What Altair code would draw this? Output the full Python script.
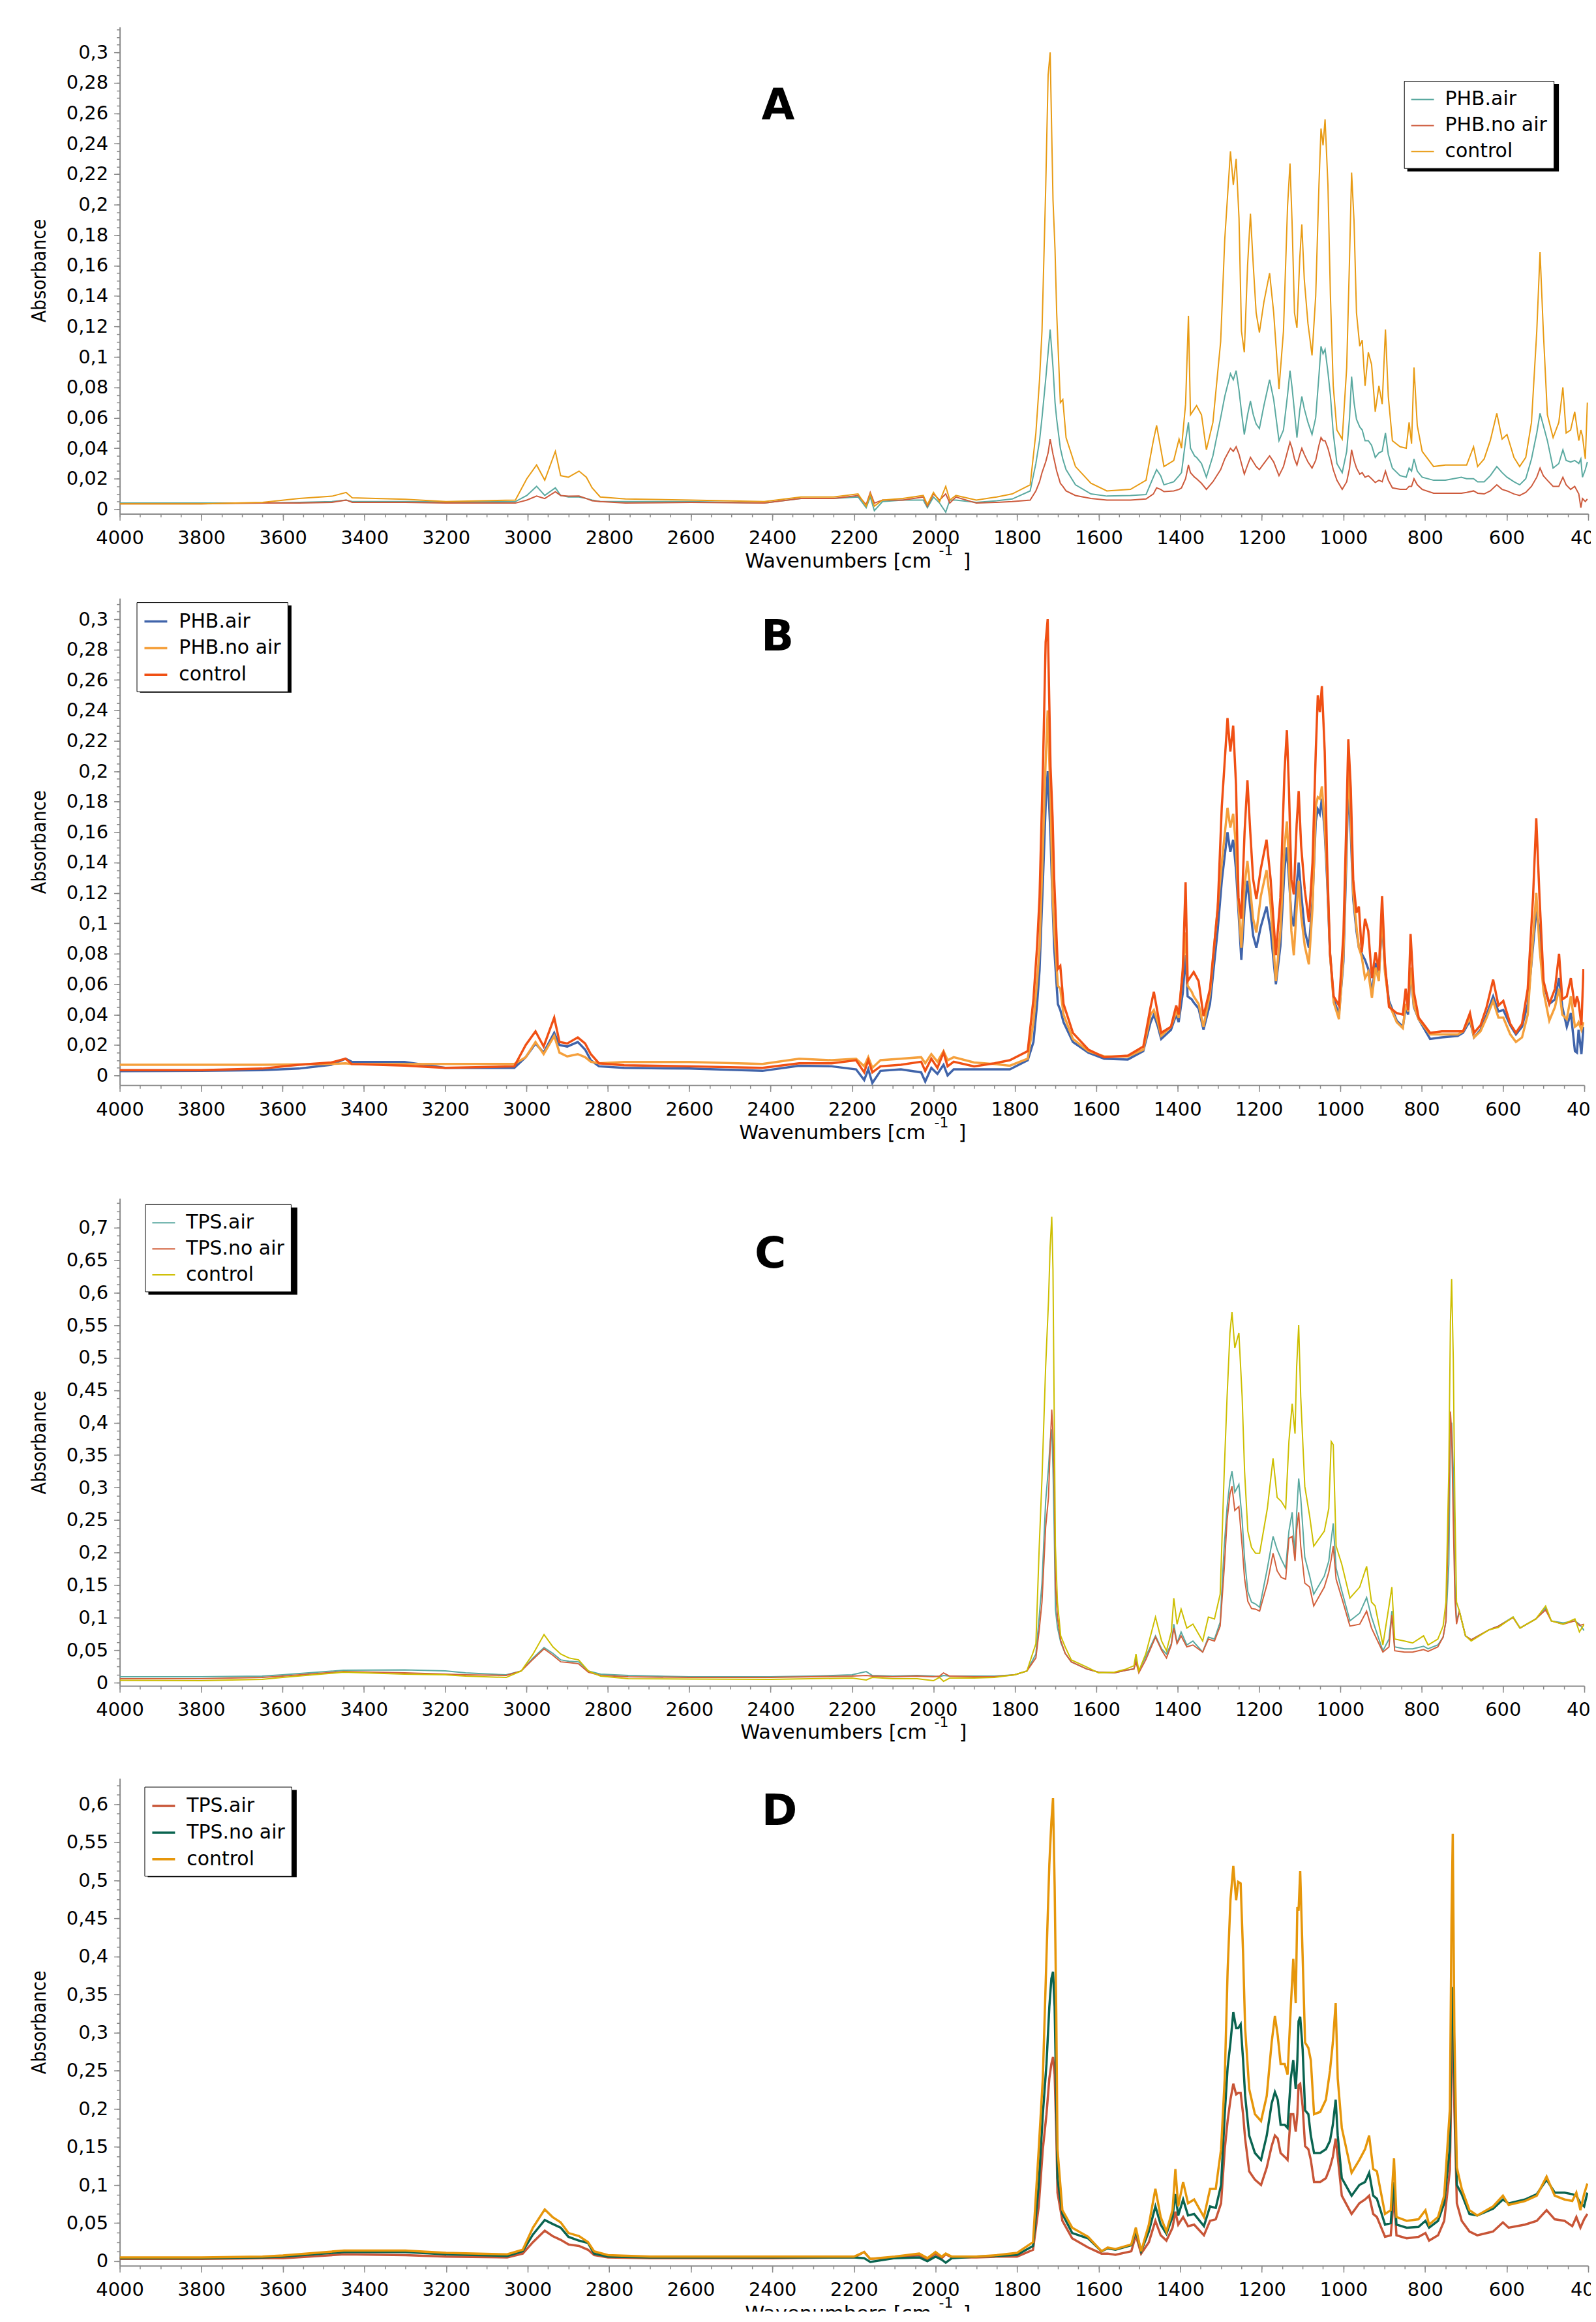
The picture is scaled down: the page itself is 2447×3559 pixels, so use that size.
import altair as alt
import pandas as pd

FONT = "DejaVu Sans"
TITLE_FONT = "DejaVu Sans Condensed, Liberation Sans Narrow, DejaVu Sans"
AXIS_GRAY = "#8a8a8a"

# ---------------- tick values ----------------
X_MAJOR = [4000, 3800, 3600, 3400, 3200, 3000, 2800, 2600, 2400, 2200, 2000,
           1800, 1600, 1400, 1200, 1000, 800, 600, 400]
X_MINOR = list(range(4000, 399, -50))
Y_MAJOR_PHB = [0, 0.02, 0.04, 0.06, 0.08, 0.1, 0.12, 0.14, 0.16, 0.18, 0.2,
               0.22, 0.24, 0.26, 0.28, 0.3]
Y_MAJOR_C = [0, 0.05, 0.1, 0.15, 0.2, 0.25, 0.3, 0.35, 0.4, 0.45, 0.5, 0.55,
             0.6, 0.65, 0.7]
Y_MAJOR_D = [0, 0.05, 0.1, 0.15, 0.2, 0.25, 0.3, 0.35, 0.4, 0.45, 0.5, 0.55, 0.6]

# ---------------- series names ----------------
PHB_NAMES = ["PHB.air", "PHB.no air", "control"]
TPS_NAMES = ["TPS.air", "TPS.no air", "control"]

# ---------------- PHB spectra (panels A and B) ----------------
# (wavenumber, control, A PHB.air, A PHB.no air, B PHB.air, B PHB.no air)
PHB_ROWS = [
    (4000, 0.0035, 0.004, 0.0035, 0.0028, 0.007),
    (3800, 0.0035, 0.004, 0.0035, 0.003, 0.007),
    (3650, 0.0045, 0.004, 0.004, 0.0035, 0.007),
    (3560, 0.007, 0.0045, 0.004, 0.0045, 0.0072),
    (3480, 0.0085, 0.005, 0.0045, 0.007, 0.0075),
    (3445, 0.011, 0.006, 0.006, 0.011, 0.008),
    (3430, 0.0075, 0.005, 0.0045, 0.009, 0.0075),
    (3300, 0.0065, 0.005, 0.0045, 0.0088, 0.0075),
    (3200, 0.005, 0.0048, 0.004, 0.005, 0.0076),
    (3030, 0.006, 0.005, 0.004, 0.005, 0.0076),
    (3002, 0.020, 0.009, 0.006, 0.012, 0.012),
    (2978, 0.029, 0.015, 0.0086, 0.021, 0.022),
    (2958, 0.019, 0.009, 0.007, 0.015, 0.014),
    (2932, 0.038, 0.014, 0.0115, 0.028, 0.026),
    (2919, 0.022, 0.009, 0.009, 0.020, 0.015),
    (2900, 0.021, 0.008, 0.0085, 0.019, 0.0125),
    (2874, 0.025, 0.008, 0.0086, 0.022, 0.014),
    (2856, 0.021, 0.007, 0.007, 0.017, 0.012),
    (2842, 0.014, 0.006, 0.0055, 0.010, 0.009),
    (2822, 0.008, 0.005, 0.005, 0.006, 0.008),
    (2760, 0.0067, 0.005, 0.004, 0.005, 0.0088),
    (2600, 0.006, 0.005, 0.0045, 0.0045, 0.0088),
    (2420, 0.005, 0.004, 0.004, 0.003, 0.0076),
    (2330, 0.008, 0.007, 0.007, 0.0064, 0.011),
    (2250, 0.008, 0.007, 0.007, 0.006, 0.010),
    (2190, 0.010, 0.008, 0.009, 0.004, 0.011),
    (2170, 0.002, 0.001, 0.003, -0.003, 0.006),
    (2160, 0.010, 0.008, 0.011, 0.004, 0.012),
    (2150, 0.002, -0.001, 0.004, -0.005, 0.005),
    (2130, 0.006, 0.005, 0.006, 0.003, 0.010),
    (2080, 0.007, 0.006, 0.006, 0.004, 0.011),
    (2030, 0.009, 0.006, 0.008, 0.002, 0.012),
    (2020, 0.003, 0.001, 0.002, -0.004, 0.008),
    (2005, 0.011, 0.008, 0.010, 0.005, 0.014),
    (1990, 0.005, 0.004, 0.006, 0.001, 0.009),
    (1975, 0.015, -0.002, 0.010, 0.007, 0.016),
    (1965, 0.006, 0.006, 0.004, 0.0, 0.010),
    (1950, 0.009, 0.006, 0.008, 0.004, 0.012),
    (1900, 0.006, 0.0045, 0.004, 0.004, 0.0085),
    (1850, 0.008, 0.0055, 0.0045, 0.004, 0.0075),
    (1812, 0.010, 0.0067, 0.005, 0.004, 0.0064),
    (1768, 0.016, 0.012, 0.006, 0.010, 0.011),
    (1754, 0.050, 0.030, 0.012, 0.022, 0.035),
    (1745, 0.085, 0.045, 0.018, 0.047, 0.062),
    (1739, 0.117, 0.060, 0.024, 0.069, 0.084),
    (1730, 0.210, 0.085, 0.031, 0.133, 0.157),
    (1724, 0.285, 0.103, 0.037, 0.177, 0.207),
    (1719, 0.300, 0.118, 0.046, 0.200, 0.240),
    (1712, 0.203, 0.093, 0.036, 0.157, 0.182),
    (1707, 0.170, 0.070, 0.030, 0.113, 0.120),
    (1703, 0.129, 0.059, 0.025, 0.084, 0.096),
    (1694, 0.070, 0.040, 0.017, 0.047, 0.059),
    (1688, 0.072, 0.033, 0.015, 0.043, 0.057),
    (1680, 0.047, 0.026, 0.012, 0.035, 0.040),
    (1657, 0.028, 0.016, 0.009, 0.022, 0.024),
    (1619, 0.017, 0.010, 0.007, 0.015, 0.016),
    (1580, 0.012, 0.0086, 0.006, 0.011, 0.0125),
    (1522, 0.013, 0.009, 0.006, 0.0105, 0.0125),
    (1484, 0.019, 0.0096, 0.0067, 0.016, 0.017),
    (1466, 0.045, 0.021, 0.010, 0.035, 0.040),
    (1458, 0.055, 0.026, 0.014, 0.040, 0.043),
    (1448, 0.040, 0.022, 0.013, 0.032, 0.035),
    (1440, 0.028, 0.016, 0.0115, 0.024, 0.026),
    (1416, 0.032, 0.018, 0.012, 0.030, 0.032),
    (1403, 0.046, 0.022, 0.013, 0.040, 0.042),
    (1397, 0.040, 0.024, 0.014, 0.035, 0.038),
    (1387, 0.069, 0.045, 0.020, 0.054, 0.069),
    (1380, 0.127, 0.057, 0.029, 0.079, 0.094),
    (1375, 0.062, 0.040, 0.024, 0.052, 0.059),
    (1365, 0.066, 0.035, 0.021, 0.050, 0.055),
    (1360, 0.068, 0.034, 0.020, 0.048, 0.052),
    (1348, 0.062, 0.030, 0.017, 0.044, 0.047),
    (1336, 0.039, 0.021, 0.013, 0.030, 0.032),
    (1320, 0.057, 0.035, 0.018, 0.047, 0.054),
    (1301, 0.110, 0.060, 0.026, 0.096, 0.111),
    (1291, 0.177, 0.074, 0.033, 0.128, 0.140),
    (1277, 0.235, 0.089, 0.040, 0.160, 0.176),
    (1270, 0.213, 0.085, 0.038, 0.147, 0.163),
    (1263, 0.230, 0.091, 0.041, 0.155, 0.172),
    (1256, 0.191, 0.078, 0.036, 0.135, 0.150),
    (1250, 0.117, 0.064, 0.030, 0.108, 0.113),
    (1243, 0.103, 0.049, 0.023, 0.076, 0.084),
    (1235, 0.160, 0.062, 0.029, 0.110, 0.125),
    (1228, 0.194, 0.071, 0.034, 0.128, 0.141),
    (1221, 0.160, 0.062, 0.031, 0.110, 0.122),
    (1214, 0.129, 0.056, 0.028, 0.092, 0.103),
    (1206, 0.116, 0.053, 0.026, 0.084, 0.094),
    (1195, 0.136, 0.068, 0.030, 0.098, 0.118),
    (1181, 0.155, 0.085, 0.035, 0.111, 0.135),
    (1171, 0.129, 0.072, 0.031, 0.095, 0.112),
    (1158, 0.079, 0.045, 0.022, 0.060, 0.062),
    (1147, 0.117, 0.052, 0.028, 0.085, 0.095),
    (1137, 0.199, 0.075, 0.038, 0.135, 0.150),
    (1131, 0.227, 0.091, 0.044, 0.150, 0.167),
    (1126, 0.189, 0.080, 0.040, 0.130, 0.140),
    (1120, 0.129, 0.064, 0.033, 0.105, 0.095),
    (1114, 0.119, 0.047, 0.029, 0.098, 0.079),
    (1107, 0.165, 0.065, 0.036, 0.125, 0.110),
    (1102, 0.187, 0.074, 0.040, 0.140, 0.128),
    (1096, 0.151, 0.066, 0.036, 0.120, 0.105),
    (1087, 0.122, 0.057, 0.031, 0.095, 0.085),
    (1077, 0.101, 0.049, 0.027, 0.084, 0.073),
    (1068, 0.140, 0.060, 0.032, 0.115, 0.110),
    (1060, 0.213, 0.088, 0.042, 0.167, 0.177),
    (1055, 0.250, 0.107, 0.047, 0.175, 0.183),
    (1050, 0.239, 0.102, 0.045, 0.172, 0.182),
    (1045, 0.256, 0.105, 0.045, 0.182, 0.190),
    (1038, 0.213, 0.090, 0.040, 0.160, 0.165),
    (1032, 0.141, 0.075, 0.034, 0.128, 0.133),
    (1025, 0.081, 0.050, 0.026, 0.080, 0.080),
    (1016, 0.052, 0.030, 0.019, 0.050, 0.048),
    (1003, 0.046, 0.024, 0.013, 0.040, 0.037),
    (992, 0.093, 0.038, 0.018, 0.075, 0.080),
    (985, 0.165, 0.060, 0.027, 0.140, 0.150),
    (980, 0.221, 0.087, 0.039, 0.192, 0.202),
    (974, 0.189, 0.070, 0.032, 0.160, 0.170),
    (968, 0.129, 0.059, 0.027, 0.116, 0.120),
    (960, 0.107, 0.054, 0.023, 0.095, 0.098),
    (954, 0.111, 0.052, 0.024, 0.084, 0.084),
    (947, 0.081, 0.045, 0.021, 0.080, 0.078),
    (939, 0.103, 0.045, 0.022, 0.076, 0.064),
    (931, 0.095, 0.042, 0.020, 0.070, 0.068),
    (922, 0.064, 0.034, 0.0175, 0.054, 0.051),
    (913, 0.081, 0.037, 0.019, 0.074, 0.071),
    (905, 0.069, 0.038, 0.018, 0.065, 0.062),
    (897, 0.118, 0.050, 0.025, 0.101, 0.108),
    (890, 0.074, 0.036, 0.019, 0.070, 0.068),
    (880, 0.045, 0.027, 0.014, 0.049, 0.047),
    (861, 0.041, 0.022, 0.013, 0.036, 0.035),
    (846, 0.040, 0.021, 0.013, 0.032, 0.031),
    (839, 0.057, 0.027, 0.015, 0.044, 0.047),
    (833, 0.043, 0.025, 0.015, 0.040, 0.042),
    (827, 0.093, 0.033, 0.020, 0.069, 0.071),
    (819, 0.055, 0.025, 0.016, 0.045, 0.046),
    (807, 0.038, 0.021, 0.013, 0.037, 0.037),
    (779, 0.028, 0.019, 0.0105, 0.024, 0.027),
    (750, 0.029, 0.019, 0.0105, 0.025, 0.027),
    (711, 0.029, 0.021, 0.0105, 0.026, 0.027),
    (698, 0.029, 0.020, 0.011, 0.028, 0.029),
    (681, 0.041, 0.020, 0.012, 0.036, 0.038),
    (671, 0.028, 0.018, 0.0105, 0.025, 0.025),
    (655, 0.033, 0.018, 0.010, 0.030, 0.029),
    (640, 0.045, 0.022, 0.012, 0.040, 0.038),
    (624, 0.063, 0.028, 0.016, 0.052, 0.049),
    (611, 0.046, 0.024, 0.013, 0.042, 0.038),
    (599, 0.049, 0.021, 0.012, 0.043, 0.038),
    (582, 0.034, 0.018, 0.010, 0.033, 0.027),
    (568, 0.028, 0.016, 0.009, 0.027, 0.022),
    (553, 0.034, 0.020, 0.011, 0.032, 0.025),
    (539, 0.057, 0.033, 0.015, 0.047, 0.040),
    (526, 0.117, 0.050, 0.021, 0.085, 0.090),
    (518, 0.169, 0.063, 0.027, 0.108, 0.120),
    (510, 0.117, 0.055, 0.022, 0.096, 0.084),
    (500, 0.062, 0.045, 0.019, 0.060, 0.055),
    (486, 0.047, 0.027, 0.015, 0.047, 0.036),
    (472, 0.057, 0.030, 0.015, 0.050, 0.045),
    (462, 0.080, 0.039, 0.021, 0.064, 0.057),
    (454, 0.050, 0.032, 0.016, 0.045, 0.040),
    (443, 0.052, 0.031, 0.013, 0.032, 0.037),
    (433, 0.064, 0.032, 0.015, 0.041, 0.052),
    (423, 0.045, 0.030, 0.010, 0.016, 0.032),
    (418, 0.052, 0.033, 0.001, 0.015, 0.033),
    (414, 0.048, 0.021, 0.007, 0.030, 0.035),
    (407, 0.033, 0.026, 0.005, 0.014, 0.030),
    (402, 0.070, 0.031, 0.0067, 0.032, 0.035),
]

# ---------------- TPS spectra, panel C ----------------
# (wavenumber, TPS.air, TPS.no air, control)
C_ROWS = [
    (4000, 0.009, 0.006, 0.0035), (3800, 0.009, 0.006, 0.003),
    (3650, 0.010, 0.008, 0.005), (3600, 0.012, 0.010, 0.008),
    (3450, 0.019, 0.017, 0.016), (3300, 0.0195, 0.015, 0.013),
    (3200, 0.018, 0.013, 0.012), (3150, 0.015, 0.012, 0.010),
    (3050, 0.012, 0.011, 0.008), (3013, 0.018, 0.018, 0.018),
    (2984, 0.038, 0.036, 0.044), (2957, 0.054, 0.052, 0.074),
    (2935, 0.045, 0.042, 0.055), (2916, 0.035, 0.032, 0.044),
    (2896, 0.033, 0.031, 0.038), (2872, 0.032, 0.029, 0.035),
    (2848, 0.018, 0.016, 0.018), (2818, 0.013, 0.011, 0.010),
    (2750, 0.011, 0.009, 0.006), (2600, 0.009, 0.008, 0.0055),
    (2400, 0.009, 0.008, 0.005), (2300, 0.010, 0.009, 0.006),
    (2200, 0.012, 0.010, 0.007), (2165, 0.017, 0.011, 0.004),
    (2150, 0.011, 0.010, 0.008), (2100, 0.010, 0.009, 0.006),
    (2040, 0.011, 0.010, 0.006), (2000, 0.010, 0.009, 0.003),
    (1985, 0.009, 0.010, 0.008), (1975, 0.011, 0.015, 0.002),
    (1960, 0.010, 0.010, 0.007), (1900, 0.010, 0.009, 0.007),
    (1850, 0.010, 0.009, 0.008), (1800, 0.012, 0.012, 0.012),
    (1770, 0.018, 0.018, 0.018), (1748, 0.044, 0.038, 0.060),
    (1740, 0.100, 0.080, 0.205), (1733, 0.153, 0.124, 0.314),
    (1724, 0.279, 0.239, 0.486), (1717, 0.331, 0.285, 0.587),
    (1713, 0.370, 0.360, 0.670), (1709, 0.390, 0.420, 0.717),
    (1706, 0.330, 0.383, 0.636), (1703, 0.239, 0.314, 0.417),
    (1700, 0.113, 0.153, 0.210), (1695, 0.085, 0.100, 0.124),
    (1687, 0.062, 0.065, 0.072), (1676, 0.045, 0.045, 0.055),
    (1661, 0.032, 0.032, 0.035), (1623, 0.021, 0.021, 0.024),
    (1594, 0.016, 0.016, 0.015), (1555, 0.015, 0.015, 0.016),
    (1526, 0.019, 0.019, 0.021), (1507, 0.021, 0.021, 0.026),
    (1502, 0.038, 0.032, 0.044), (1495, 0.018, 0.015, 0.018),
    (1478, 0.040, 0.035, 0.044), (1454, 0.072, 0.070, 0.101),
    (1439, 0.052, 0.050, 0.064), (1427, 0.044, 0.038, 0.049),
    (1415, 0.060, 0.058, 0.078), (1409, 0.090, 0.084, 0.130),
    (1401, 0.061, 0.060, 0.090), (1391, 0.078, 0.072, 0.113),
    (1377, 0.058, 0.055, 0.084), (1362, 0.064, 0.058, 0.090),
    (1338, 0.047, 0.047, 0.064), (1324, 0.070, 0.067, 0.101),
    (1309, 0.067, 0.064, 0.098), (1295, 0.093, 0.087, 0.136),
    (1285, 0.210, 0.176, 0.325), (1278, 0.270, 0.250, 0.440),
    (1271, 0.310, 0.290, 0.538), (1266, 0.325, 0.302, 0.570),
    (1259, 0.293, 0.265, 0.515), (1249, 0.305, 0.271, 0.538),
    (1241, 0.251, 0.210, 0.440), (1235, 0.190, 0.160, 0.325),
    (1227, 0.140, 0.125, 0.233), (1218, 0.124, 0.114, 0.208),
    (1208, 0.121, 0.113, 0.199), (1198, 0.116, 0.110, 0.199),
    (1179, 0.176, 0.153, 0.268), (1165, 0.225, 0.199, 0.345),
    (1155, 0.205, 0.172, 0.285), (1145, 0.190, 0.162, 0.279),
    (1134, 0.176, 0.159, 0.268), (1126, 0.233, 0.222, 0.371),
    (1118, 0.262, 0.225, 0.429), (1111, 0.193, 0.187, 0.383),
    (1107, 0.260, 0.235, 0.486), (1102, 0.314, 0.262, 0.550),
    (1097, 0.285, 0.210, 0.440), (1087, 0.193, 0.153, 0.302),
    (1075, 0.164, 0.147, 0.256), (1065, 0.136, 0.118, 0.210),
    (1039, 0.164, 0.147, 0.233), (1028, 0.187, 0.170, 0.268),
    (1022, 0.220, 0.190, 0.371), (1017, 0.245, 0.210, 0.366),
    (1010, 0.176, 0.159, 0.210), (996, 0.141, 0.130, 0.182),
    (976, 0.095, 0.087, 0.130), (952, 0.107, 0.090, 0.147),
    (935, 0.131, 0.110, 0.179), (923, 0.101, 0.084, 0.124),
    (914, 0.084, 0.072, 0.118), (895, 0.049, 0.047, 0.058),
    (880, 0.067, 0.055, 0.118), (873, 0.110, 0.104, 0.147),
    (866, 0.055, 0.049, 0.067), (842, 0.052, 0.047, 0.064),
    (822, 0.052, 0.047, 0.061), (795, 0.056, 0.051, 0.072),
    (784, 0.052, 0.048, 0.058), (760, 0.058, 0.055, 0.067),
    (747, 0.070, 0.070, 0.087), (740, 0.095, 0.095, 0.124),
    (733, 0.182, 0.270, 0.325), (729, 0.383, 0.417, 0.555),
    (726, 0.400, 0.383, 0.621), (722, 0.325, 0.250, 0.498),
    (718, 0.153, 0.130, 0.268), (714, 0.095, 0.090, 0.124),
    (707, 0.110, 0.110, 0.110), (692, 0.072, 0.072, 0.072),
    (678, 0.066, 0.066, 0.064), (635, 0.081, 0.081, 0.081),
    (611, 0.087, 0.087, 0.085), (575, 0.101, 0.100, 0.101),
    (558, 0.084, 0.084, 0.084), (519, 0.098, 0.098, 0.098),
    (495, 0.115, 0.112, 0.118), (481, 0.095, 0.095, 0.095),
    (452, 0.092, 0.090, 0.090), (423, 0.095, 0.095, 0.098),
    (412, 0.090, 0.088, 0.078), (400, 0.080, 0.090, 0.090),
]

# ---------------- TPS spectra, panel D ----------------
# (wavenumber, TPS.air, TPS.no air, control)
D_ROWS = [
    (4000, 0.003, 0.004, 0.005), (3800, 0.003, 0.004, 0.005),
    (3650, 0.004, 0.005, 0.006), (3600, 0.004, 0.006, 0.0075),
    (3450, 0.009, 0.012, 0.014), (3300, 0.008, 0.012, 0.014),
    (3200, 0.006, 0.009, 0.011), (3050, 0.005, 0.007, 0.009),
    (3012, 0.010, 0.013, 0.015), (2987, 0.025, 0.035, 0.044),
    (2958, 0.040, 0.054, 0.068), (2939, 0.033, 0.049, 0.058),
    (2919, 0.028, 0.044, 0.051), (2900, 0.022, 0.032, 0.037),
    (2874, 0.020, 0.027, 0.033), (2852, 0.015, 0.024, 0.025),
    (2837, 0.008, 0.010, 0.013), (2803, 0.005, 0.006, 0.008),
    (2700, 0.004, 0.005, 0.006), (2400, 0.004, 0.005, 0.006),
    (2200, 0.005, 0.005, 0.006), (2175, 0.012, 0.004, 0.012),
    (2160, 0.003, -0.001, 0.003), (2100, 0.005, 0.004, 0.006),
    (2040, 0.008, 0.005, 0.010), (2020, 0.002, 0.0, 0.004),
    (2000, 0.010, 0.006, 0.012), (1985, 0.004, 0.002, 0.006),
    (1975, 0.009, -0.002, 0.010), (1960, 0.005, 0.004, 0.006),
    (1900, 0.005, 0.006, 0.006), (1850, 0.006, 0.007, 0.008),
    (1800, 0.006, 0.0084, 0.011), (1761, 0.015, 0.020, 0.025),
    (1747, 0.072, 0.100, 0.147), (1737, 0.147, 0.193, 0.240),
    (1728, 0.193, 0.259, 0.400), (1721, 0.240, 0.334, 0.521),
    (1716, 0.259, 0.371, 0.577), (1712, 0.268, 0.380, 0.608),
    (1708, 0.245, 0.334, 0.493), (1704, 0.170, 0.217, 0.325),
    (1701, 0.090, 0.109, 0.147), (1689, 0.053, 0.062, 0.067),
    (1665, 0.030, 0.037, 0.044), (1626, 0.018, 0.030, 0.032),
    (1593, 0.010, 0.013, 0.013), (1578, 0.010, 0.017, 0.018),
    (1559, 0.0084, 0.015, 0.016), (1520, 0.013, 0.021, 0.022),
    (1509, 0.034, 0.040, 0.044), (1496, 0.010, 0.013, 0.013),
    (1477, 0.025, 0.039, 0.048), (1461, 0.053, 0.072, 0.095),
    (1448, 0.034, 0.048, 0.058), (1434, 0.027, 0.036, 0.039),
    (1419, 0.044, 0.058, 0.067), (1412, 0.065, 0.088, 0.121),
    (1405, 0.048, 0.060, 0.072), (1393, 0.058, 0.081, 0.104),
    (1381, 0.046, 0.060, 0.076), (1366, 0.048, 0.062, 0.081),
    (1342, 0.034, 0.046, 0.058), (1327, 0.053, 0.072, 0.095),
    (1313, 0.055, 0.070, 0.095), (1300, 0.076, 0.100, 0.147),
    (1291, 0.147, 0.193, 0.240), (1284, 0.184, 0.254, 0.380),
    (1277, 0.212, 0.287, 0.474), (1270, 0.233, 0.327, 0.519),
    (1263, 0.219, 0.306, 0.474), (1258, 0.221, 0.306, 0.498),
    (1252, 0.221, 0.311, 0.496), (1246, 0.193, 0.264, 0.404),
    (1241, 0.161, 0.217, 0.306), (1231, 0.118, 0.165, 0.226),
    (1217, 0.107, 0.142, 0.193), (1202, 0.100, 0.133, 0.184),
    (1188, 0.123, 0.165, 0.217), (1176, 0.151, 0.207, 0.287),
    (1168, 0.165, 0.222, 0.322), (1161, 0.161, 0.212, 0.296),
    (1154, 0.142, 0.179, 0.259), (1144, 0.137, 0.179, 0.259),
    (1137, 0.133, 0.175, 0.245), (1129, 0.193, 0.240, 0.334),
    (1123, 0.193, 0.264, 0.397), (1117, 0.170, 0.226, 0.339),
    (1113, 0.193, 0.264, 0.465), (1110, 0.231, 0.315, 0.460),
    (1106, 0.233, 0.321, 0.512), (1100, 0.203, 0.278, 0.400),
    (1094, 0.151, 0.198, 0.287), (1086, 0.147, 0.193, 0.280),
    (1080, 0.133, 0.165, 0.264), (1072, 0.104, 0.142, 0.193),
    (1057, 0.104, 0.142, 0.196), (1043, 0.109, 0.147, 0.212),
    (1033, 0.123, 0.158, 0.250), (1026, 0.137, 0.179, 0.287),
    (1019, 0.161, 0.212, 0.339), (1014, 0.137, 0.165, 0.240),
    (1004, 0.086, 0.109, 0.175), (980, 0.062, 0.086, 0.116),
    (961, 0.076, 0.100, 0.133), (947, 0.081, 0.104, 0.147),
    (937, 0.086, 0.116, 0.165), (927, 0.062, 0.086, 0.121),
    (918, 0.058, 0.082, 0.118), (898, 0.032, 0.048, 0.062),
    (884, 0.034, 0.050, 0.067), (876, 0.086, 0.104, 0.135),
    (870, 0.034, 0.048, 0.058), (845, 0.030, 0.044, 0.053),
    (816, 0.032, 0.045, 0.055), (799, 0.037, 0.053, 0.067),
    (790, 0.027, 0.044, 0.048), (768, 0.034, 0.053, 0.058),
    (753, 0.053, 0.076, 0.086), (739, 0.120, 0.150, 0.200),
    (735, 0.250, 0.330, 0.450), (732, 0.330, 0.360, 0.561),
    (728, 0.200, 0.250, 0.300), (722, 0.076, 0.100, 0.123),
    (710, 0.053, 0.088, 0.095), (691, 0.039, 0.062, 0.067),
    (672, 0.034, 0.060, 0.060), (633, 0.039, 0.069, 0.072),
    (609, 0.051, 0.081, 0.086), (595, 0.044, 0.076, 0.074),
    (555, 0.048, 0.081, 0.079), (526, 0.053, 0.088, 0.086),
    (502, 0.067, 0.107, 0.111), (482, 0.055, 0.090, 0.086),
    (458, 0.053, 0.090, 0.081), (439, 0.046, 0.088, 0.079),
    (429, 0.058, 0.086, 0.090), (419, 0.044, 0.076, 0.067),
    (410, 0.055, 0.072, 0.088), (402, 0.062, 0.090, 0.102),
]

phb = pd.DataFrame(PHB_ROWS, columns=["wn", "control", "A_air", "A_noair", "B_air", "B_noair"])
tpsC = pd.DataFrame(C_ROWS, columns=["wn", "air", "noair", "control"])
tpsD = pd.DataFrame(D_ROWS, columns=["wn", "air", "noair", "control"])


def long_form(wn, columns, names):
    parts = []
    for col, name in zip(columns, names):
        parts.append(pd.DataFrame({"wn": wn, "absorbance": col, "series": name}))
    return pd.concat(parts, ignore_index=True)


dfA = long_form(phb.wn, [phb.A_air, phb.A_noair, phb.control], PHB_NAMES)
dfB = long_form(phb.wn, [phb.B_air, phb.B_noair, phb.control], PHB_NAMES)
dfC = long_form(tpsC.wn, [tpsC.air, tpsC.noair, tpsC.control], TPS_NAMES)
dfD = long_form(tpsD.wn, [tpsD.air, tpsD.noair, tpsD.control], TPS_NAMES)

ONE = pd.DataFrame({"k": [0]})

Y_LABEL_EXPR = "replace(format(datum.value, '~g'), '.', ',')"


def panel(df, names, colors, sw, ydom, ymajor, yminor_step, w, h,
          legend_xy, legend_wh, letter, letter_xy, title_x, sup_x, br_x,
          title_dy, sup_dy, gap):
    xscale = alt.Scale(domain=[400, 4000], reverse=True, nice=False, zero=False)
    yscale = alt.Scale(domain=ydom, nice=False, zero=False)
    n_minor = int((ydom[1] - 1e-9) / yminor_step)
    yminor = [round(i * yminor_step, 5) for i in range(n_minor + 1)]

    x_axis = alt.Axis(values=X_MAJOR, format="d", title=None, orient="bottom",
                      labelFlush=False, labelOverlap=False, tickSize=10,
                      labelPadding=13, labelFont=FONT, labelFontSize=29,
                      labelColor="black", domainColor=AXIS_GRAY,
                      tickColor=AXIS_GRAY, domainWidth=2, tickWidth=1.5,
                      grid=False)
    y_axis = alt.Axis(values=ymajor, labelExpr=Y_LABEL_EXPR, orient="left",
                      title="Absorbance", titleFont=TITLE_FONT,
                      titleFontSize=30, titleFontWeight="normal",
                      titleColor="black", titleAngle=270, titleAlign="center",
                      titleBaseline="middle", titleX=-123, titleY=h / 2,
                      labelOverlap=False, tickSize=9, labelPadding=9,
                      labelFont=FONT, labelFontSize=29, labelColor="black",
                      domainColor=AXIS_GRAY, tickColor=AXIS_GRAY,
                      domainWidth=2, tickWidth=1.5, grid=False)

    lines = alt.Chart(df).mark_line(strokeWidth=sw, clip=True).encode(
        x=alt.X("wn:Q", scale=xscale, axis=x_axis),
        y=alt.Y("absorbance:Q", scale=yscale, axis=y_axis),
        color=alt.Color(
            "series:N",
            scale=alt.Scale(domain=names, range=colors),
            sort=names,
            legend=alt.Legend(
                title=None, orient="none", legendX=legend_xy[0],
                legendY=legend_xy[1], direction="vertical",
                symbolType="stroke", symbolSize=1225, symbolStrokeWidth=sw,
                labelFont=FONT, labelFontSize=30, labelColor="black",
                labelLimit=400, labelOffset=16, strokeColor="black",
                fillColor="white", padding=10, rowPadding=6,
                cornerRadius=0,
            ),
        ),
    )

    minor = alt.Chart(df).mark_line(strokeOpacity=0, clip=True).encode(
        x=alt.X("wn:Q", axis=alt.Axis(values=X_MINOR, labels=False,
                                      domain=False, title=None, orient="bottom",
                                      tickSize=5, tickColor=AXIS_GRAY,
                                      tickWidth=1.5, grid=False)),
        y=alt.Y("absorbance:Q", axis=alt.Axis(values=yminor, labels=False,
                                              domain=False, title=None,
                                              orient="left", tickSize=5,
                                              tickColor=AXIS_GRAY,
                                              tickWidth=1.5, grid=False)),
    )

    lx, ly = legend_xy
    lw, lh = legend_wh
    shadow = alt.Chart(ONE).mark_rect(color="black").encode(
        x=alt.value(lx + 5), x2=alt.value(lx + lw + 5),
        y=alt.value(ly + 5), y2=alt.value(ly + lh + 5),
    )

    letter_mark = alt.Chart(ONE).mark_text(
        text=letter, font=FONT, fontSize=66, fontWeight="bold", color="black",
        align="center", baseline="alphabetic",
    ).encode(x=alt.value(letter_xy[0]), y=alt.value(letter_xy[1]))

    t_main = alt.Chart(ONE).mark_text(
        text="Wavenumbers [cm", font=FONT, fontSize=30.5, color="black",
        align="left", baseline="alphabetic",
    ).encode(x=alt.value(title_x), y=alt.value(h + title_dy))
    t_sup = alt.Chart(ONE).mark_text(
        text="-1", font=FONT, fontSize=22, color="black",
        align="left", baseline="alphabetic",
    ).encode(x=alt.value(sup_x), y=alt.value(h + sup_dy))
    t_br = alt.Chart(ONE).mark_text(
        text="]", font=FONT, fontSize=30.5, color="black",
        align="left", baseline="alphabetic",
    ).encode(x=alt.value(br_x), y=alt.value(h + title_dy))

    spacer = alt.Chart(ONE).mark_rule(opacity=0, strokeOpacity=0).encode(
        x=alt.value(-150), y=alt.value(0), y2=alt.value(h + gap),
    )

    return alt.layer(shadow, lines, minor, letter_mark, t_main, t_sup, t_br,
                     spacer).resolve_axis(x="independent", y="independent"
                     ).properties(width=w, height=h)


pA = panel(dfA, PHB_NAMES, ["#5aa9a0", "#cd5a3c", "#e89b14"], 2,
           [-0.003, 0.3167], Y_MAJOR_PHB, 0.005, 2257, 748,
           (1974, 83), (233, 134), "A", (1012, 142), 961, 1259, 1296, 83, 64, 130)
pB = panel(dfB, PHB_NAMES, ["#4064aa", "#f5a03c", "#f05014"], 3.5,
           [-0.0064, 0.3137], Y_MAJOR_PHB, 0.005, 2251, 748,
           (26, 6), (233, 134), "B", (1011, 80), 952, 1252, 1289, 83, 65, 174)
pC = panel(dfC, TPS_NAMES, ["#5aa9a0", "#d2603c", "#cdbe00"], 2,
           [-0.005, 0.745], Y_MAJOR_C, 0.0125, 2251, 749,
           (39, 9), (229, 134), "C", (1000, 106), 954, 1252, 1290, 81, 63, 142)
pD = panel(dfD, TPS_NAMES, ["#c85537", "#0a6450", "#e6960a"], 3.5,
           [-0.006, 0.634], Y_MAJOR_D, 0.0125, 2257, 749,
           (38, 13), (229, 134), "D", (1014, 72), 961, 1259, 1296, 83, 64, 90)

chart = alt.vconcat(pA, pB, pC, pD, spacing=0).resolve_scale(
    color="independent"
).properties(
    padding={"left": 26, "top": 29, "right": -24, "bottom": -24},
    background="white",
).configure_view(stroke=None)

chart.save("out.html", embed_options={"renderer": "svg", "actions": False})
